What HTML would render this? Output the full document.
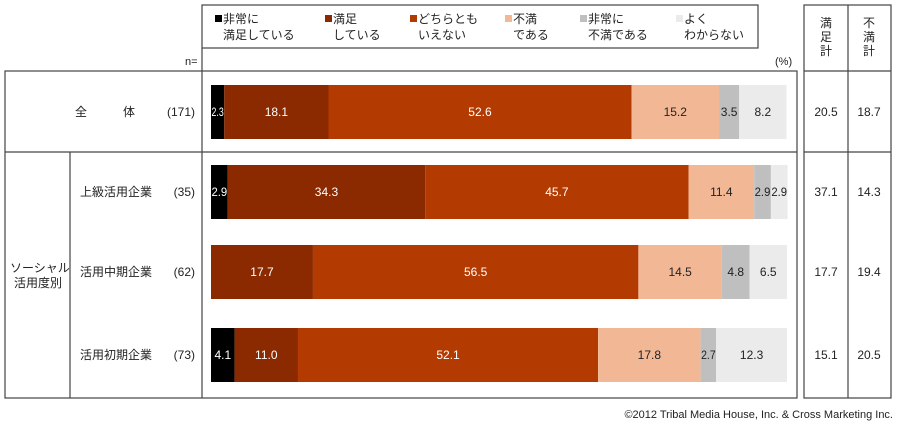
<!DOCTYPE html>
<html><head><meta charset="utf-8"><style>
body{margin:0;width:900px;height:427px;background:#fff;font-family:"Liberation Sans","Noto Sans CJK JP",sans-serif;overflow:hidden}
svg text{font-family:"Liberation Sans","Noto Sans CJK JP",sans-serif}
</style></head><body>
<svg id="c" width="900" height="427" xmlns="http://www.w3.org/2000/svg">
<g id="frame" stroke="#444" stroke-width="1.2" fill="none">
<rect x="202" y="5" width="556" height="43"/>
<rect x="5" y="71" width="792" height="327"/>
<line x1="202" y1="48" x2="202" y2="398"/>
<line x1="5" y1="152" x2="797" y2="152"/>
<line x1="70" y1="152" x2="70" y2="398"/>
<rect x="804" y="5" width="87" height="393"/>
<line x1="848" y1="5" x2="848" y2="398"/>
<line x1="804" y1="71" x2="891" y2="71"/>
<line x1="804" y1="152" x2="891" y2="152"/>
</g>
<g font-size="12" fill="#222">
<text x="185" y="65" font-size="11">n=</text>
<text x="775" y="65" font-size="11">(%)</text>
<text x="75" y="116">全　　　体</text>
<text x="10" y="272">ソーシャル</text>
<text x="14" y="287">活用度別</text>
<text font-size="12"><tspan x="820" y="27">満</tspan><tspan x="820" y="41">足</tspan><tspan x="820" y="55">計</tspan></text>
<text font-size="12"><tspan x="863" y="27">不</tspan><tspan x="863" y="41">満</tspan><tspan x="863" y="55">計</tspan></text>
<text x="893" y="418" text-anchor="end" font-size="11">©2012 Tribal Media House, Inc. &amp; Cross Marketing Inc.</text>
</g>
<g id="legend"></g>
<g id="bars"></g>
</svg>
<script>
const categories=["全　　　体","上級活用企業","活用中期企業","活用初期企業"];
const nValues=["(171)","(35)","(62)","(73)"];
const seriesNames=["非常に|満足している","満足|している","どちらとも|いえない","不満|である","非常に|不満である","よく|わからない"];
const s1=[2.3,2.9,0,4.1];
const s2=[18.1,34.3,17.7,11.0];
const s3=[52.6,45.7,56.5,52.1];
const s4=[15.2,11.4,14.5,17.8];
const s5=[3.5,2.9,4.8,2.7];
const s6=[8.2,2.9,6.5,12.3];
const satTotal=["20.5","37.1","17.7","15.1"];
const unsatTotal=["18.7","14.3","19.4","20.5"];
const colors=["#000","#8b2a00","#b33a00","#f2b896","#bfbfbf","#ebebeb"];
const txtCol=["#fff","#fff","#fff","#222","#222","#222"];
const NS="http://www.w3.org/2000/svg";
const x0=211,scale=5.76;
const xs=v=>v*scale;
const rowY=[85,165,245,328],barH=54;
const series=[s1,s2,s3,s4,s5,s6];
const bars=document.getElementById('bars');
function mk(t,a){const e=document.createElementNS(NS,t);for(const k in a)e.setAttribute(k,a[k]);return e;}
categories.forEach((c,i)=>{
  const cy=rowY[i]+barH/2+4;
  if(i>0){const t=mk('text',{x:80,y:cy,'font-size':12,fill:'#222'});t.textContent=c;
  
  bars.appendChild(t);}
  const n=mk('text',{x:195,y:cy,'font-size':12,fill:'#222','text-anchor':'end'});n.textContent=nValues[i];
  
  bars.appendChild(n);
  let acc=0;
  series.forEach((s,j)=>{
    const v=s[i];if(v<=0)return;
    const r=mk('rect',{x:x0+xs(acc),y:rowY[i],width:xs(v),height:barH,fill:colors[j]});
    
    bars.appendChild(r);
    const t=mk('text',{x:x0+xs(acc+v/2),y:cy,'font-size':12,fill:txtCol[j],'text-anchor':'middle'});
    t.textContent=v.toFixed(1);
    if(xs(v)<20){t.setAttribute('textLength',String(Math.max(xs(v)-1,12)));t.setAttribute('lengthAdjust','spacingAndGlyphs');}
    
    bars.appendChild(t);
    acc+=v;
  });
  const a=mk('text',{x:826,y:cy,'font-size':12,fill:'#222','text-anchor':'middle'});a.textContent=satTotal[i];
  
  bars.appendChild(a);
  const b=mk('text',{x:869,y:cy,'font-size':12,fill:'#222','text-anchor':'middle'});b.textContent=unsatTotal[i];
  
  bars.appendChild(b);
});
const lg=document.getElementById('legend');
const lx=[215,325,410,505,580,676];
seriesNames.forEach((n,j)=>{
  const p=n.split('|');
  const r=mk('rect',{x:lx[j],y:15,width:7,height:7,fill:colors[j]});
  
  lg.appendChild(r);
  const t=mk('text',{x:lx[j]+8,y:23,'font-size':12,fill:'#222'});t.textContent=p[0];
  
  lg.appendChild(t);
  const t2=mk('text',{x:lx[j]+8,y:39,'font-size':12,fill:'#222'});t2.textContent=p[1];
  
  lg.appendChild(t2);
});
</script>
</body></html>
